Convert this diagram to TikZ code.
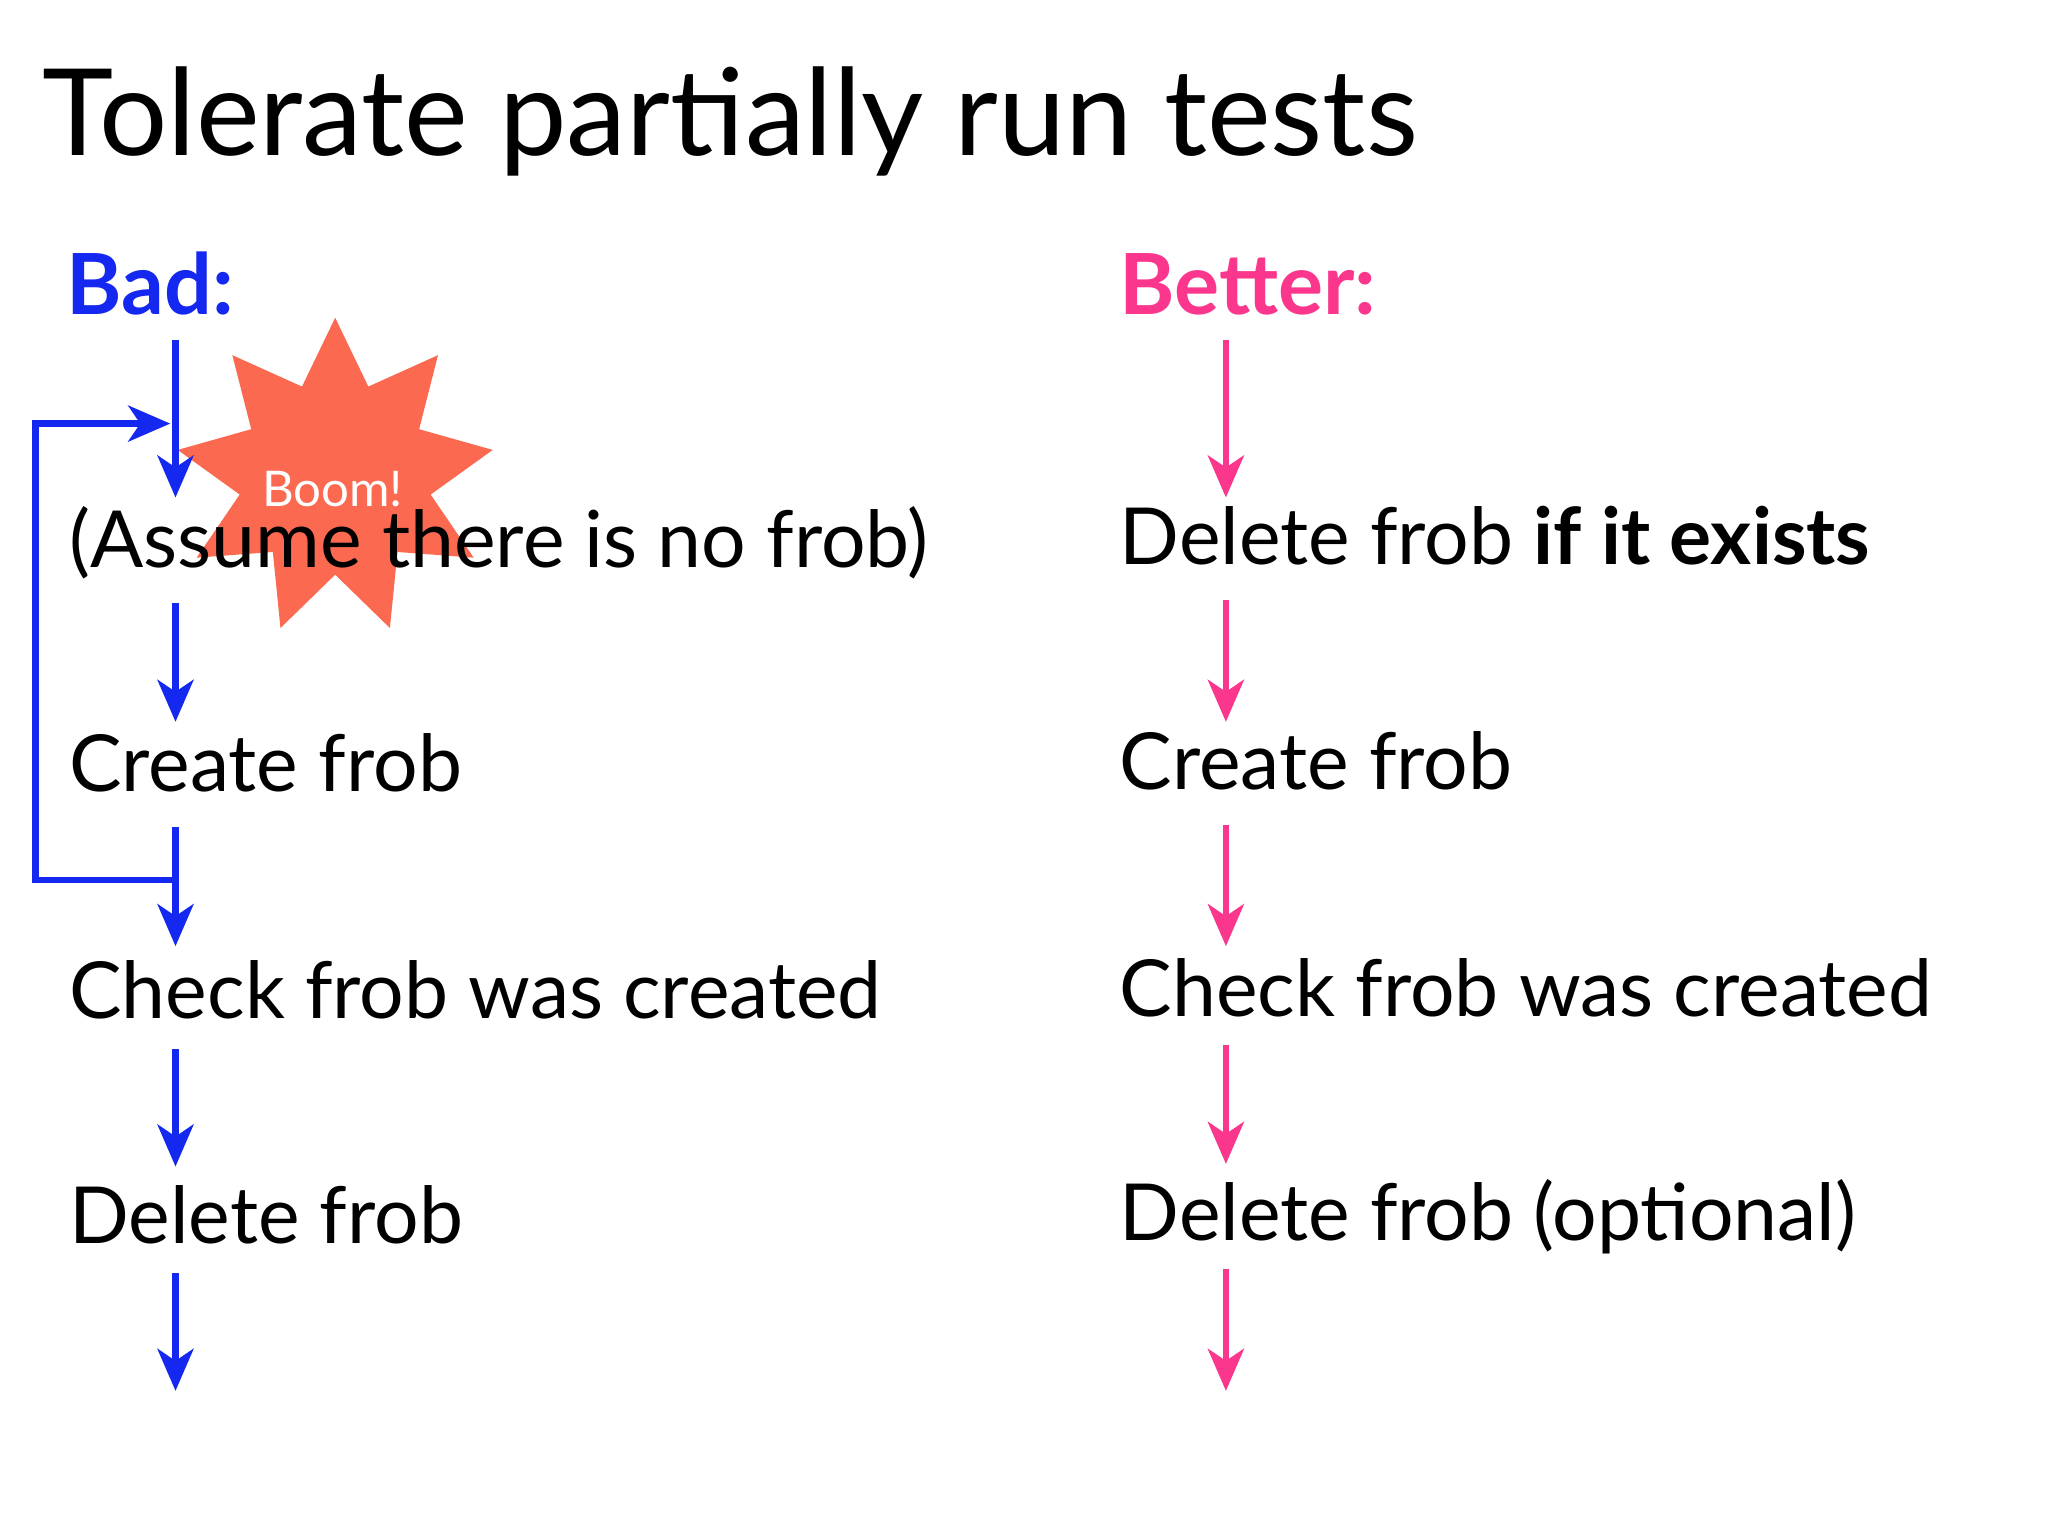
\documentclass[tikz,border=0pt]{standalone}
\usepackage{fontspec}
\setmainfont{Lato}
\usetikzlibrary{arrows.meta,shapes.geometric}
\begin{document}
\begin{tikzpicture}[x=0.013196cm,y=-0.013196cm,
  txt/.style={anchor=base west,inner sep=0pt,font=\fontsize{22.4}{26}\selectfont},
  barr/.style={draw={rgb,255:red,20;green,40;blue,240},line width=1.8pt,-{Stealth[length=0.42cm,width=0.36cm,inset=0.12cm]}},
  parr/.style={draw={rgb,255:red,250;green,55;blue,140},line width=1.8pt,-{Stealth[length=0.42cm,width=0.36cm,inset=0.12cm]}}]
\useasboundingbox (0,0) rectangle (1552,1164);
\fill[white] (0,0) rectangle (1552,1164);
\node[anchor=base west,inner sep=0pt,font=\fontsize{34.3}{40}\selectfont] (title) at (32,118) {Tolerate partially run tests};
\node[anchor=base west,inner sep=0pt,font=\fontsize{24}{28}\selectfont\bfseries,text={rgb,255:red,20;green,40;blue,240}] (bad) at (50,238) {Bad:};
\node[anchor=base west,inner sep=0pt,font=\fontsize{24}{28}\selectfont\bfseries,text={rgb,255:red,250;green,55;blue,140}] (better) at (848,238) {Better:};
% star
\node[star,star points=9,star point ratio=1.65,minimum size=3.2cm,inner sep=0pt,fill={rgb,255:red,250;green,105;blue,80}] (star) at (254,362) {};
% left texts
\node[txt] (l1) at (52,430) {(Assume there is no frob)};
\node[txt] (l2) at (52,600) {Create frob};
\node[txt] (l3) at (52,772) {Check frob was created};
\node[txt] (l4) at (52,942) {Delete frob};
\node[anchor=base,inner sep=0pt,font=\fontsize{14}{16}\selectfont,text=white] (boom) at (252,384) {Boom!};
% right texts
\node[txt] (r1) at (848,428) {Delete frob \textbf{if it exists}};
\node[txt] (r2) at (848,598) {Create frob};
\node[txt] (r3) at (848,770) {Check frob was created};
\node[txt] (r4) at (848,940) {Delete frob (optional)};
% left arrows
\foreach \i/\a/\b in {1/258/377,2/457/547,3/627/717,4/795/884,5/965/1054}{
  \coordinate (la\i) at (133,\a); \coordinate (lb\i) at (133,\b);
  \draw[barr] (la\i) -- (lb\i);}
\coordinate (lp1) at (135,667); \coordinate (lp2) at (129,321);
\draw[barr] (lp1) -- (27,667) -- (27,321) -- (lp2);
% right arrows
\foreach \i/\a/\b in {1/258/377,2/455/547,3/625/717,4/792/882,5/962/1054}{
  \coordinate (ra\i) at (929,\a); \coordinate (rb\i) at (929,\b);
  \draw[parr] (ra\i) -- (rb\i);}
\end{tikzpicture}
\end{document}
